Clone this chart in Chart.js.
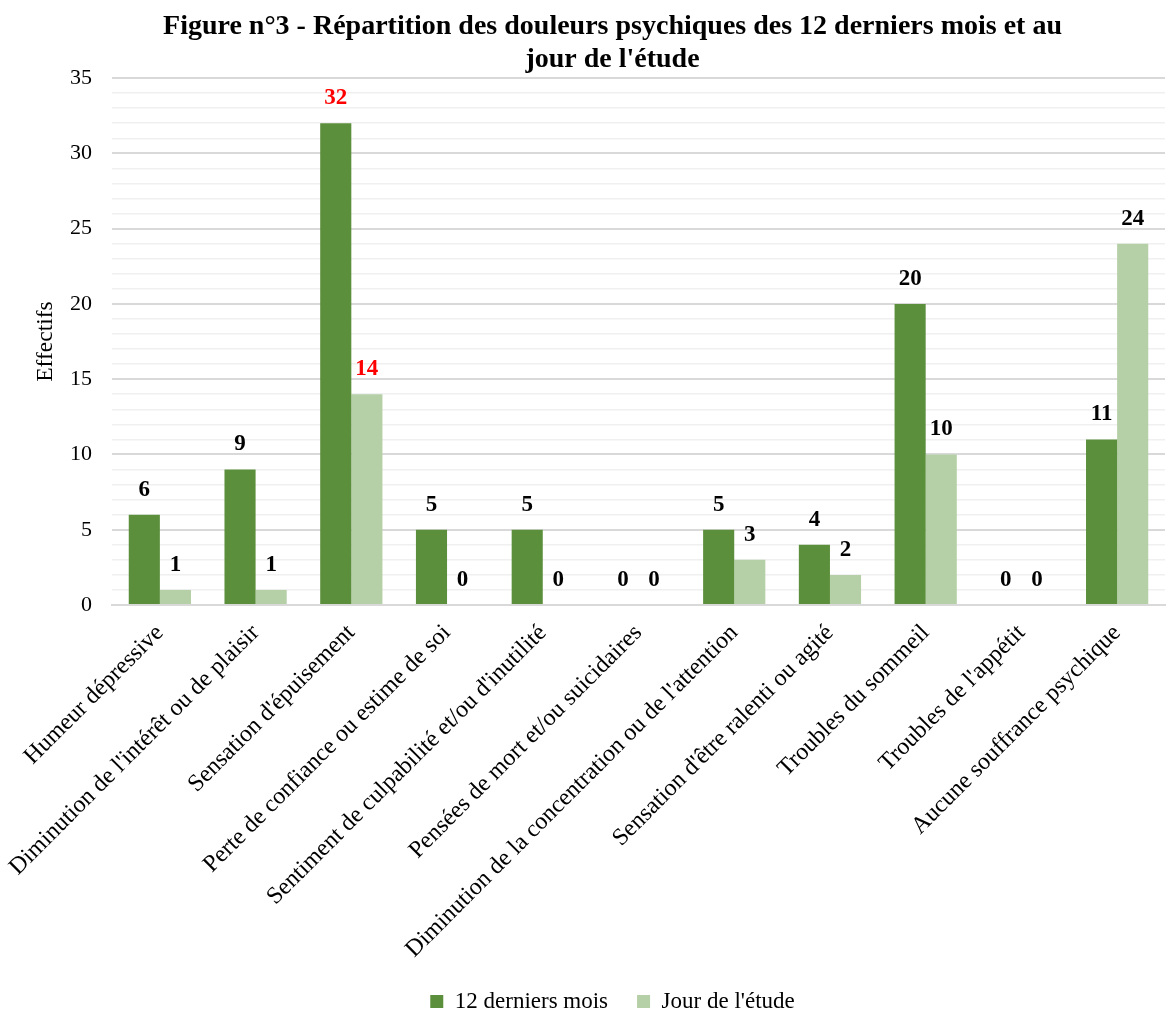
<!DOCTYPE html>
<html>
<head>
<meta charset="utf-8">
<script src="https://cdn.jsdelivr.net/npm/chart.js@4/dist/chart.umd.min.js"></script>
<style>
  body { margin: 0; background: #fff; }
  #wrap { width: 1174px; height: 1012px; }
</style>
</head>
<body>
<div id="wrap"><canvas id="douleursChart" width="1174" height="1012"></canvas></div>
<script>
const categories = [
  "Humeur dépressive",
  "Diminution de l'intérêt ou de plaisir",
  "Sensation d'épuisement",
  "Perte de confiance ou estime de soi",
  "Sentiment de culpabilité et/ou d'inutilité",
  "Pensées de mort et/ou suicidaires",
  "Diminution de la concentration ou de l'attention",
  "Sensation d'être ralenti ou agité",
  "Troubles du sommeil",
  "Troubles de l'appétit",
  "Aucune souffrance psychique"
];
const douzeMois = [6, 9, 32, 5, 5, 0, 5, 4, 20, 0, 11];
const jourEtude = [1, 1, 14, 0, 0, 0, 3, 2, 10, 0, 24];
const highlighted = [2]; // category shown with red labels

const serif = "'Liberation Serif', 'Times New Roman', serif";

// draw the value above each bar
const valueLabels = {
  id: 'valueLabels',
  afterDatasetsDraw(chart) {
    const ctx = chart.ctx;
    ctx.save();
    ctx.font = "bold 23px " + serif;
    ctx.textAlign = 'center';
    ctx.textBaseline = 'middle';
    chart.data.datasets.forEach((ds, di) => {
      chart.getDatasetMeta(di).data.forEach((bar, i) => {
        ctx.fillStyle = highlighted.includes(i) ? '#FF0000' : '#000000';
        ctx.fillText(ds.data[i], bar.x, bar.y - 25);
      });
    });
    ctx.restore();
  }
};

const ctx = document.getElementById('douleursChart').getContext('2d');
new Chart(ctx, {
  type: 'bar',
  data: {
    labels: categories,
    datasets: [
      {
        label: '12 derniers mois',
        data: douzeMois,
        backgroundColor: '#5B8F3B',
        categoryPercentage: 0.65,
        barPercentage: 1
      },
      {
        label: "Jour de l'étude",
        data: jourEtude,
        backgroundColor: '#B5CFA6',
        categoryPercentage: 0.65,
        barPercentage: 1
      }
    ]
  },
  options: {
    responsive: false,
    animation: false,
    layout: { padding: { left: 60, right: 9, top: 3, bottom: -11 } },
    plugins: {
      title: {
        display: true,
        text: ["Figure n°3 - Répartition des douleurs psychiques des 12 derniers mois et au", "jour de l'étude"],
        color: '#000',
        font: { family: serif, size: 28, weight: 'bold', lineHeight: 1.18 },
        padding: { top: 7, bottom: 2 }
      },
      legend: {
        position: 'bottom',
        labels: {
          color: '#000',
          font: { family: serif, size: 23 },
          boxWidth: 13,
          boxHeight: 13,
          padding: 6,
          generateLabels: chart => {
            const items = Chart.defaults.plugins.legend.labels.generateLabels(chart);
            items[0].text += '    ';
            return items;
          }
        }
      },
      tooltip: { enabled: false }
    },
    scales: {
      x: {
        grid: { display: false },
        border: { color: '#D9D9D9', width: 2 },
        afterFit: s => { s.height = 379; },
        ticks: {
          color: '#000',
          font: { family: serif, size: 24 },
          maxRotation: 45,
          minRotation: 45,
          autoSkip: false,
          padding: 6
        }
      },
      y: {
        min: 0,
        max: 35,
        border: { display: false },
        afterFit: s => { s.width = 52; },
        grid: {
          color: c => (c.tick.value % 5 === 0 ? '#D9D9D9' : '#F0F0F0'),
          lineWidth: c => (c.tick.value % 5 === 0 ? 2 : 1.5),
          drawTicks: false
        },
        ticks: {
          stepSize: 1,
          autoSkip: false,
          color: '#000',
          padding: 20,
          font: { family: serif, size: 22 },
          callback: v => (v % 5 === 0 ? v : '')
        },
        title: {
          display: true,
          text: 'Effectifs',
          color: '#000',
          font: { family: serif, size: 23.5 },
          padding: { top: -28, bottom: 0 }
        }
      }
    }
  },
  plugins: [valueLabels]
});
</script>
</body>
</html>
